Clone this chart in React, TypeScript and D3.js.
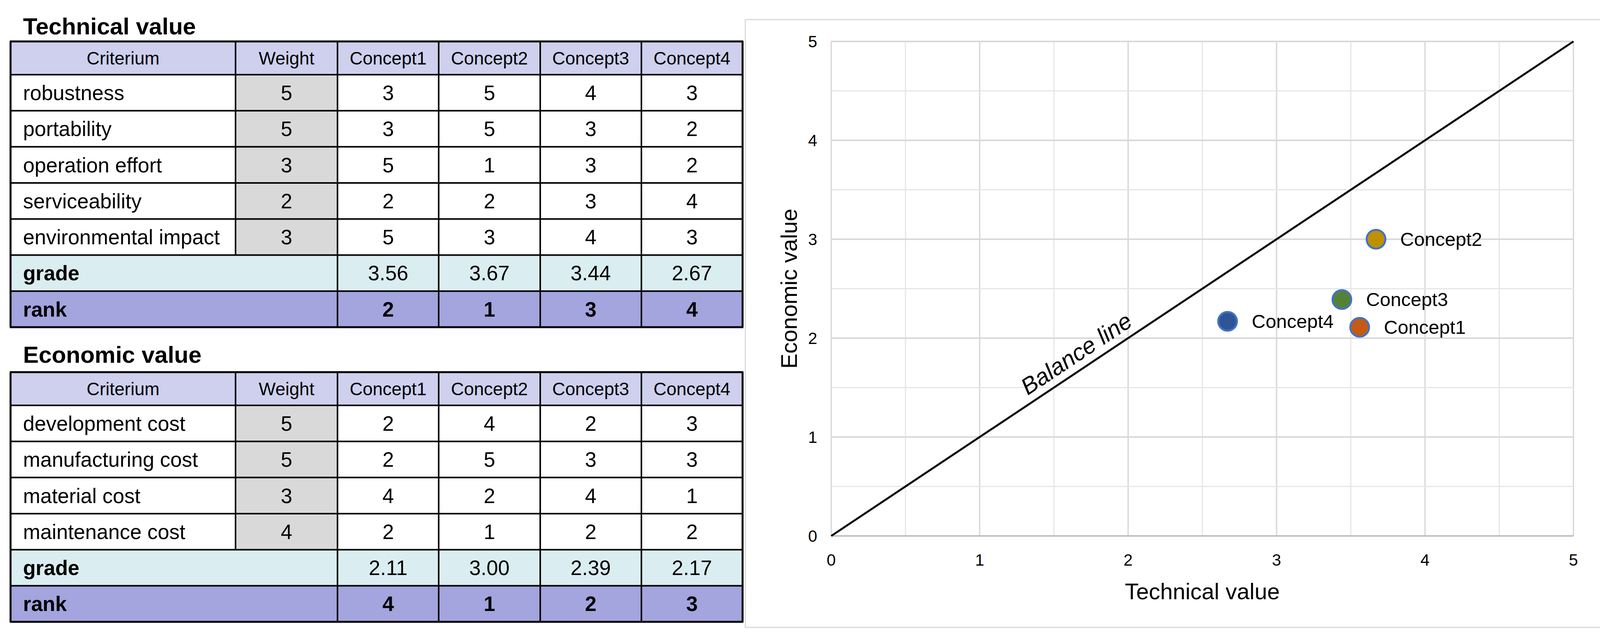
import React from 'react';
import * as d3 from 'd3';

const W = 4135;
const H = 1627;
const FONT = '"Liberation Sans", Arial, Helvetica, sans-serif';

// ---------- data ----------
const concepts = ['Concept1', 'Concept2', 'Concept3', 'Concept4'];

const techCriteria = ['robustness', 'portability', 'operation effort', 'serviceability', 'environmental impact'];
const techWeights = [5, 5, 3, 2, 3];
const techScores = [
  [3, 5, 4, 3],
  [3, 5, 3, 2],
  [5, 1, 3, 2],
  [2, 2, 3, 4],
  [5, 3, 4, 3],
];
const techGrades = [3.56, 3.67, 3.44, 2.67];
const techRanks = [2, 1, 3, 4];

const econCriteria = ['development cost', 'manufacturing cost', 'material cost', 'maintenance cost'];
const econWeights = [5, 5, 3, 4];
const econScores = [
  [2, 4, 2, 3],
  [2, 5, 3, 3],
  [4, 2, 4, 1],
  [2, 1, 2, 2],
];
const econGrades = [2.11, 3.0, 2.39, 2.17];
const econRanks = [4, 1, 2, 3];

const axisTicks = [0, 1, 2, 3, 4, 5];
const markerColors = ['#C55A11', '#BF9000', '#548235', '#2F5597'];

// ---------- layout ----------
const colEdges = [27, 603, 864, 1123, 1383, 1642, 1901];
const HEADER_H = 85;
const ROW_H = 92.3;

const C_HEADER = '#CED0EE';
const C_WEIGHT = '#D9D9D9';
const C_GRADE = '#DAEDF0';
const C_RANK = '#A4A4DE';

type TableProps = {
  title: string;
  titleBaseline: number;
  top: number;
  criteria: string[];
  weights: number[];
  scores: number[][];
  grades: number[];
  ranks: number[];
};

function Table({ title, titleBaseline, top, criteria, weights, scores, grades, ranks }: TableProps) {
  const conceptX = d3.scaleBand<string>().domain(concepts).range([colEdges[2], colEdges[6]]);
  const bodyTop = top + HEADER_H;
  const rowY = d3
    .scaleLinear()
    .domain([0, 1])
    .range([bodyTop, bodyTop + ROW_H]);
  const nBody = criteria.length;
  const gradeTop = rowY(nBody);
  const rankTop = rowY(nBody + 1);
  const bottom = rowY(nBody + 2);
  const left = colEdges[0];
  const right = colEdges[6];
  const critX = colEdges[0];
  const weightX = colEdges[1];
  const weightW = colEdges[2] - colEdges[1];
  const bodyFont = 53;
  const headFont = 46;
  const cy = (t: number, h: number, fs: number) => t + h / 2 + fs * 0.355;

  const hLines = [top, bodyTop, ...d3.range(1, nBody + 3).map((i) => rowY(i))];

  return (
    <g fontFamily={FONT}>
      <text x={59} y={titleBaseline} fontSize={60} fontWeight="bold" fill="#000">
        {title}
      </text>
      {/* header */}
      <rect x={left} y={top} width={right - left} height={HEADER_H} fill={C_HEADER} />
      <text x={(colEdges[0] + colEdges[1]) / 2} y={cy(top, HEADER_H, headFont)} fontSize={headFont} textAnchor="middle">
        Criterium
      </text>
      <text x={(colEdges[1] + colEdges[2]) / 2} y={cy(top, HEADER_H, headFont)} fontSize={headFont} textAnchor="middle">
        Weight
      </text>
      {concepts.map((c) => (
        <text
          key={c}
          x={(conceptX(c) as number) + conceptX.bandwidth() / 2}
          y={cy(top, HEADER_H, headFont)}
          fontSize={headFont}
          textAnchor="middle"
        >
          {c}
        </text>
      ))}
      {/* body rows */}
      {criteria.map((crit, i) => {
        const t = rowY(i);
        return (
          <g key={crit}>
            <rect x={left} y={t} width={right - left} height={ROW_H} fill="#fff" />
            <rect x={weightX} y={t} width={weightW} height={ROW_H} fill={C_WEIGHT} />
            <text x={critX + 32} y={cy(t, ROW_H, bodyFont)} fontSize={bodyFont}>
              {crit}
            </text>
            <text x={weightX + weightW / 2} y={cy(t, ROW_H, bodyFont)} fontSize={bodyFont} textAnchor="middle">
              {weights[i]}
            </text>
            {scores[i].map((s, j) => (
              <text
                key={j}
                x={(conceptX(concepts[j]) as number) + conceptX.bandwidth() / 2}
                y={cy(t, ROW_H, bodyFont)}
                fontSize={bodyFont}
                textAnchor="middle"
              >
                {s}
              </text>
            ))}
          </g>
        );
      })}
      {/* grade */}
      <rect x={left} y={gradeTop} width={right - left} height={ROW_H} fill={C_GRADE} />
      <text x={critX + 32} y={cy(gradeTop, ROW_H, bodyFont)} fontSize={bodyFont} fontWeight="bold">
        grade
      </text>
      {grades.map((g, j) => (
        <text
          key={j}
          x={(conceptX(concepts[j]) as number) + conceptX.bandwidth() / 2}
          y={cy(gradeTop, ROW_H, bodyFont)}
          fontSize={bodyFont}
          textAnchor="middle"
        >
          {d3.format('.2f')(g)}
        </text>
      ))}
      {/* rank */}
      <rect x={left} y={rankTop} width={right - left} height={ROW_H} fill={C_RANK} />
      <text x={critX + 32} y={cy(rankTop, ROW_H, bodyFont)} fontSize={bodyFont} fontWeight="bold">
        rank
      </text>
      {ranks.map((r, j) => (
        <text
          key={j}
          x={(conceptX(concepts[j]) as number) + conceptX.bandwidth() / 2}
          y={cy(rankTop, ROW_H, bodyFont)}
          fontSize={bodyFont}
          textAnchor="middle"
          fontWeight="bold"
        >
          {r}
        </text>
      ))}
      {/* grid lines */}
      {hLines.map((y, i) => (
        <line key={'h' + i} x1={left - 2} x2={right + 2} y1={y} y2={y} stroke="#000" strokeWidth={i === 0 || i === hLines.length - 1 ? 5 : 4} />
      ))}
      <line x1={colEdges[0]} x2={colEdges[0]} y1={top} y2={bottom} stroke="#000" strokeWidth={5} />
      <line x1={colEdges[1]} x2={colEdges[1]} y1={top} y2={gradeTop} stroke="#000" strokeWidth={4} />
      {colEdges.slice(2, 6).map((x) => (
        <line key={'v' + x} x1={x} x2={x} y1={top} y2={bottom} stroke="#000" strokeWidth={4} />
      ))}
      <line x1={colEdges[6]} x2={colEdges[6]} y1={top} y2={bottom} stroke="#000" strokeWidth={5} />
    </g>
  );
}

function Chart() {
  const x = d3.scaleLinear().domain([0, 5]).range([2128, 4028]);
  const y = d3.scaleLinear().domain([0, 5]).range([1371, 106]);
  const gridVals = d3.range(0, 5.001, 0.5);
  const isMajor = (v: number) => Math.abs(v - Math.round(v)) < 1e-6;
  const line = d3
    .line<[number, number]>()
    .x((d) => x(d[0]))
    .y((d) => y(d[1]));
  const balance: [number, number][] = [
    [0, 0],
    [5, 5],
  ];
  const angle = (Math.atan2(y(5) - y(0), x(5) - x(0)) * 180) / Math.PI;
  const t = 1.71;
  const rad = (angle * Math.PI) / 180;
  const off = 20;
  const bx = x(t) + off * Math.sin(rad);
  const by = y(t) - off * Math.cos(rad);

  return (
    <g fontFamily={FONT}>
      <rect x={1908} y={50} width={2190} height={1555} fill="#fff" stroke="#D9D9D9" strokeWidth={3} />
      {gridVals.map((v) => (
        <line
          key={'gx' + v}
          x1={x(v)}
          x2={x(v)}
          y1={y(5)}
          y2={y(0)}
          stroke={isMajor(v) ? '#D9D9D9' : '#E6E6E6'}
          strokeWidth={isMajor(v) ? 3.5 : 3}
        />
      ))}
      {gridVals.map((v) => (
        <line
          key={'gy' + v}
          x1={x(0)}
          x2={x(5)}
          y1={y(v)}
          y2={y(v)}
          stroke={isMajor(v) ? '#D9D9D9' : '#E6E6E6'}
          strokeWidth={isMajor(v) ? 4 : 3}
        />
      ))}
      <line x1={x(0)} x2={x(5)} y1={y(0)} y2={y(0)} stroke="#BFBFBF" strokeWidth={4} />
      {axisTicks.map((v) => (
        <text key={'tx' + v} x={x(v)} y={1447} fontSize={42} textAnchor="middle" fill="#000">
          {v}
        </text>
      ))}
      {axisTicks.map((v) => (
        <text key={'ty' + v} x={2092} y={y(v) + 15} fontSize={42} textAnchor="end" fill="#000">
          {v}
        </text>
      ))}
      <text x={(x(0) + x(5)) / 2} y={1533} fontSize={58} textAnchor="middle" fill="#000">
        Technical value
      </text>
      <text
        transform={`translate(${2040},${(y(0) + y(5)) / 2}) rotate(-90)`}
        fontSize={58}
        textAnchor="middle"
        fill="#000"
      >
        Economic value
      </text>
      <path d={line(balance) || ''} fill="none" stroke="#000" strokeWidth={5} />
      <text
        transform={`translate(${bx},${by}) rotate(${angle})`}
        fontSize={60}
        fontStyle="italic"
        textAnchor="middle"
        fill="#000"
      >
        Balance line
      </text>
      {concepts.map((c, i) => (
        <g key={c}>
          <circle cx={x(techGrades[i])} cy={y(econGrades[i])} r={24} fill={markerColors[i]} stroke="#4472C4" strokeWidth={5} />
          <text x={x(techGrades[i]) + 62} y={y(econGrades[i]) + 17} fontSize={49} fill="#000">
            {c}
          </text>
        </g>
      ))}
    </g>
  );
}

export default function App() {
  return (
    <svg
      width={W}
      height={H}
      viewBox={`0 0 ${W} ${H}`}
      style={{ position: 'absolute', left: 0, top: 0, display: 'block', background: '#fff' }}
    >
      <rect x={0} y={0} width={W} height={H} fill="#fff" />
      <Table
        title="Technical value"
        titleBaseline={88}
        top={106}
        criteria={techCriteria}
        weights={techWeights}
        scores={techScores}
        grades={techGrades}
        ranks={techRanks}
      />
      <Table
        title="Economic value"
        titleBaseline={928}
        top={952}
        criteria={econCriteria}
        weights={econWeights}
        scores={econScores}
        grades={econGrades}
        ranks={econRanks}
      />
      <Chart />
    </svg>
  );
}
